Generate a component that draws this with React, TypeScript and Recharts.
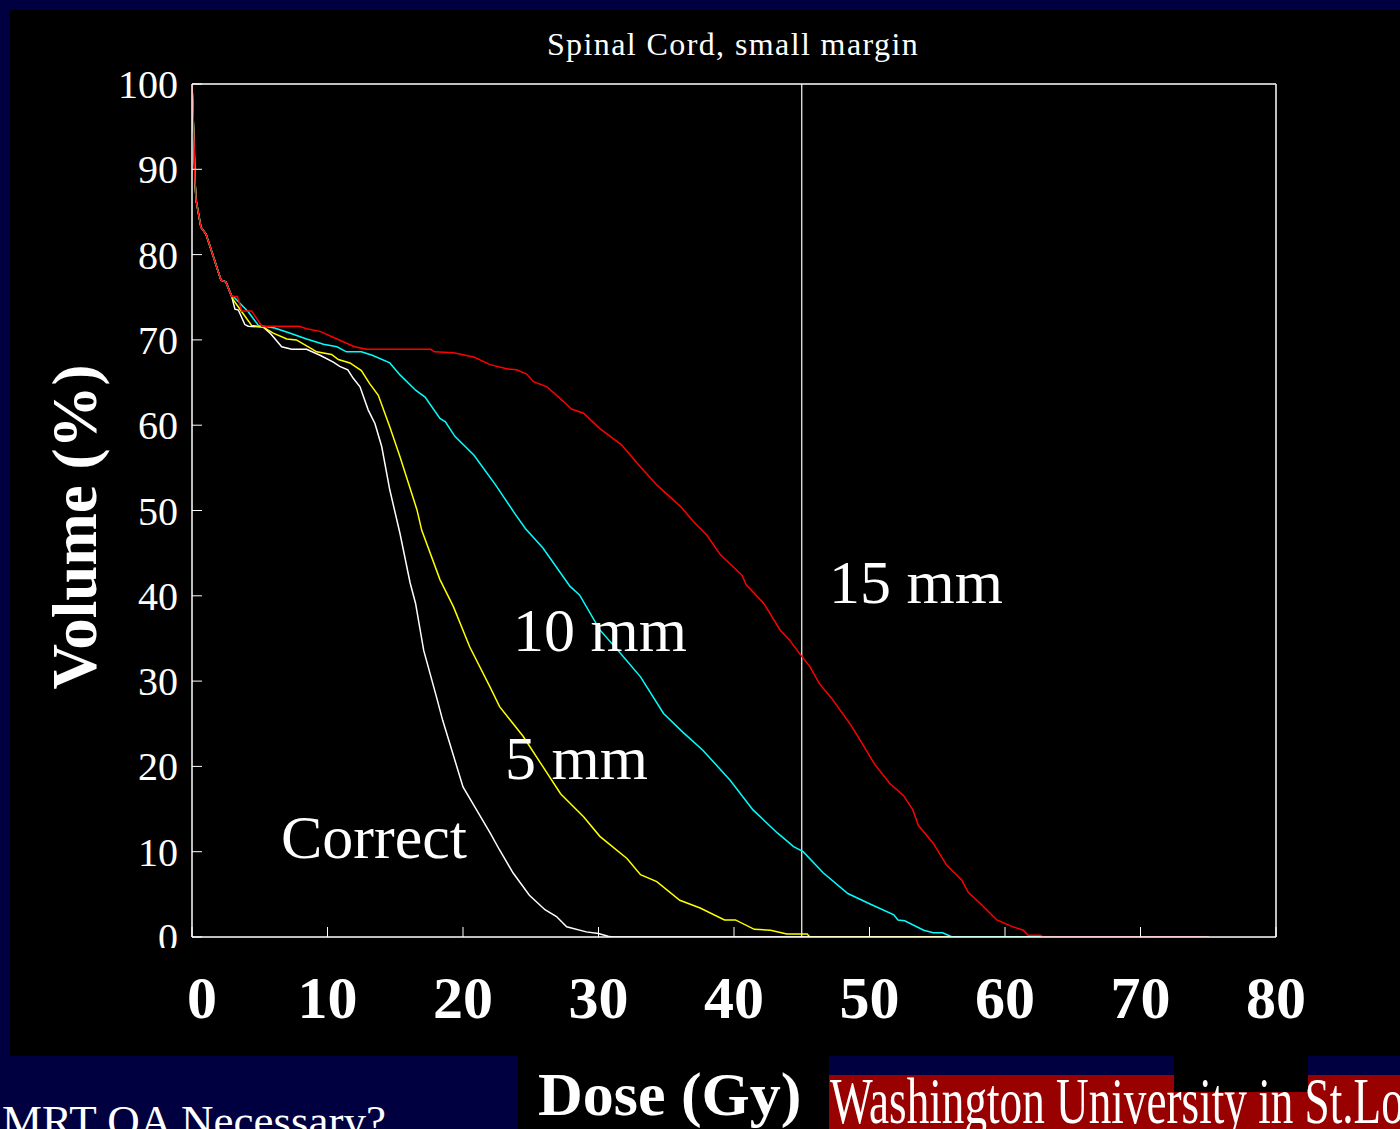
import React from 'react';
import { LineChart, Line, XAxis, YAxis, ReferenceLine } from 'recharts';

type Pt = [number, number];

// dose (Gy), volume (%)
const sharedStart: Pt[] = [
  [0, 100], [0.1, 95.4], [0.15, 93.1], [0.22, 88.7], [0.3, 86.4], [0.66, 83.2],
  [1.03, 82.4], [1.57, 79.8], [2.14, 77.0], [2.5, 76.8], [2.93, 75.1],
];

const correctTail: Pt[] = [
  [3.17, 73.6], [3.42, 73.5], [3.9, 71.8], [4.15, 71.6], [5.26, 71.5], [5.76, 70.8],
  [6.62, 69.2], [7.36, 68.9], [8.46, 68.9], [9.45, 68.2], [10.43, 67.4], [10.9, 66.9],
  [11.5, 66.5], [11.9, 65.5], [12.4, 64.5], [13.0, 61.8], [13.5, 60.2], [14.0, 57.5],
  [14.6, 52.4], [15.35, 47.3], [16.1, 41.5], [16.5, 39.1], [17.1, 33.6], [18.1, 27.8],
  [18.5, 25.4], [20.0, 17.6], [21.0, 14.9], [22.0, 12.2], [22.7, 10.2], [23.7, 7.5],
  [24.9, 4.9], [26.05, 3.2], [26.9, 2.4], [27.65, 1.2], [29.1, 0.6], [30.0, 0.4],
  [30.7, 0.1], [31, 0], [75, 0],
];

const fiveMmTail: Pt[] = [
  [3.05, 74.7], [3.67, 73.3], [4.4, 71.7], [5.26, 71.5], [6.0, 70.8], [7.0, 70.1],
  [7.7, 70.0], [8.46, 69.3], [9.2, 68.6], [10.3, 68.3], [10.8, 67.7], [11.66, 67.3],
  [12.5, 66.4], [13.1, 64.9], [13.75, 63.5], [14.6, 59.8], [15.35, 56.3], [16.6, 50.1],
  [16.95, 47.7], [18.3, 41.9], [19.3, 38.7], [20.5, 34.0], [22.0, 29.3], [22.7, 27.0],
  [24.45, 23.5], [25.8, 20.2], [27.2, 16.8], [28.9, 14.1], [30.1, 11.8], [32.1, 9.2],
  [33.1, 7.3], [34.3, 6.5], [36.0, 4.3], [37.5, 3.4], [39.3, 2.0], [40.1, 2.0],
  [41.5, 0.9], [42.7, 0.8], [43.9, 0.35], [45.4, 0.35], [45.6, 0], [75, 0],
];

const tenMmTail: Pt[] = [
  [3.05, 75.1], [4.15, 73.3], [4.9, 71.7], [6.1, 71.4], [7.2, 70.8], [8.46, 70.1],
  [9.7, 69.5], [10.7, 69.2], [11.4, 68.6], [12.5, 68.6], [13.3, 68.2], [14.6, 67.3],
  [15.35, 65.9], [16.5, 64.1], [17.2, 63.3], [18.3, 60.8], [18.7, 60.4], [19.4, 58.7],
  [20.8, 56.5], [22.4, 53.0], [23.8, 49.7], [24.6, 47.9], [25.9, 45.6], [27.9, 41.1],
  [28.6, 40.1], [30.1, 36.0], [31.6, 33.3], [33.1, 30.5], [34.8, 26.2], [36.3, 23.9],
  [37.7, 21.9], [39.7, 18.4], [41.4, 14.9], [43.2, 12.2], [44.4, 10.6], [45.1, 10.0],
  [46.6, 7.5], [48.4, 5.1], [50.0, 3.9], [51.8, 2.6], [52.1, 2.0], [52.6, 1.9],
  [54.0, 0.8], [54.7, 0.5], [55.4, 0.5], [56.1, 0], [75, 0],
];

const fifteenMmTail: Pt[] = [
  [3.35, 75.1], [3.67, 73.4], [4.4, 73.4], [5.15, 71.6], [7.9, 71.6], [8.46, 71.3],
  [9.45, 71.0], [10.7, 70.1], [12.0, 69.2], [12.9, 68.9], [17.6, 68.9], [17.9, 68.6],
  [19.3, 68.5], [20.8, 68.0], [22.0, 67.1], [23.3, 66.6], [23.95, 66.5], [24.7, 66.0],
  [25.2, 65.1], [26.2, 64.5], [27.4, 62.8], [28.0, 61.9], [28.9, 61.4], [30.1, 59.6],
  [31.7, 57.7], [33.1, 55.1], [34.3, 53.0], [36.1, 50.4], [37.0, 48.7], [38.0, 47.1],
  [39.0, 44.8], [40.6, 42.4], [40.9, 41.3], [42.2, 39.1], [43.4, 36.0], [44.1, 34.8],
  [44.9, 33.1], [45.6, 31.7], [46.3, 29.7], [47.2, 28.0], [48.6, 24.9], [49.3, 23.1],
  [50.4, 20.2], [51.5, 18.0], [52.5, 16.6], [53.2, 14.9], [53.6, 13.1], [54.7, 11.0],
  [55.7, 8.4], [56.8, 6.7], [57.3, 5.2], [58.2, 3.9], [59.4, 2.0], [60.4, 1.3],
  [61.35, 0.8], [61.7, 0.2], [62.6, 0.2], [62.8, 0], [75, 0],
];

const xTicks = [0, 10, 20, 30, 40, 50, 60, 70, 80];
const yTicks = [0, 10, 20, 30, 40, 50, 60, 70, 80, 90, 100];
const toleranceDose = 45;

const FONT = "'Liberation Serif', 'Times New Roman', Times, serif";
const NAVY = '#000040';

const toRows = (tail: Pt[]) => [...sharedStart, ...tail].map(([dose, vol]) => ({ dose, vol }));

const series = [
  { name: 'Correct', color: '#ffffff', data: toRows(correctTail) },
  { name: '5 mm', color: '#ffff00', data: toRows(fiveMmTail) },
  { name: '10 mm', color: '#00ffff', data: toRows(tenMmTail) },
  { name: '15 mm', color: '#ff0000', data: toRows(fifteenMmTail) },
];

const BottomTick = ({ x, y, payload }: any) => {
  // the slide's "0" sits a little right of the axis origin
  const first = payload.value === 0;
  return (
    <g>
      <line x1={x} y1={y} x2={x} y2={y - 10} stroke="#fff" />
      <text
        x={first ? x - 5 : x}
        y={y + 81}
        textAnchor={first ? 'start' : 'middle'}
        fill="#fff"
        fontFamily={FONT}
        fontWeight="bold"
        fontSize={60}
      >
        {payload.value}
      </text>
    </g>
  );
};

const TopTick = ({ x, y }: any) => <line x1={x} y1={y} x2={x} y2={y + 10} stroke="#fff" />;

const LeftTick = ({ x, y, payload }: any) => (
  <g>
    <line x1={x} y1={y} x2={x + 10} y2={y} stroke="#fff" />
    <text x={x - 14} y={y + 14} textAnchor="end" fill="#fff" fontFamily={FONT} fontSize={40}>
      {payload.value}
    </text>
  </g>
);

const RightTick = ({ x, y }: any) => <line x1={x} y1={y} x2={x - 10} y2={y} stroke="#fff" />;

const abs = (l: number, t: number, w: number, h: number, bg: string): React.CSSProperties => ({
  position: 'absolute', left: l, top: t, width: w, height: h, background: bg,
});

export default function App() {
  return (
    <div style={{ position: 'absolute', left: 0, top: 0, width: 1400, height: 1129, background: NAVY, overflow: 'hidden' }}>
      <div style={abs(10, 10, 1390, 1046, '#000')} />
      <div style={abs(518, 1056, 311, 73, '#000')} />
      <div style={abs(829, 1075, 571, 54, '#990000')} />
      <div style={abs(1174, 1056, 134, 36, '#000')} />

      <div style={{ position: 'absolute', left: 0, top: 0 }}>
        <LineChart width={1400} height={1129} margin={{ top: 74, right: 114, bottom: 92, left: 92 }}>
          <XAxis
            xAxisId="x"
            dataKey="dose"
            type="number"
            domain={[0, 80]}
            ticks={xTicks}
            interval={0}
            allowDataOverflow
            height={100}
            tickSize={0}
            tickMargin={0}
            axisLine={{ stroke: '#fff', strokeWidth: 1.5 }}
            tick={BottomTick}
          />
          <XAxis
            xAxisId="top"
            orientation="top"
            type="number"
            domain={[0, 80]}
            ticks={xTicks}
            interval={0}
            height={10}
            tickSize={0}
            tickMargin={0}
            axisLine={{ stroke: '#fff', strokeWidth: 1.5 }}
            tick={TopTick}
          />
          <YAxis
            yAxisId="y"
            type="number"
            domain={[0, 100]}
            ticks={yTicks}
            interval={0}
            allowDataOverflow
            width={100}
            tickSize={0}
            tickMargin={0}
            axisLine={{ stroke: '#fff', strokeWidth: 1.5 }}
            tick={LeftTick}
          />
          <YAxis
            yAxisId="right"
            orientation="right"
            type="number"
            domain={[0, 100]}
            ticks={yTicks}
            interval={0}
            width={10}
            tickSize={0}
            tickMargin={0}
            axisLine={{ stroke: '#fff', strokeWidth: 1.5 }}
            tick={RightTick}
          />
          <ReferenceLine xAxisId="x" yAxisId="y" x={toleranceDose} stroke="#fff" strokeWidth={1.2} />
          {series.map((s) => (
            <Line
              key={s.name}
              xAxisId="x"
              yAxisId="y"
              data={s.data}
              dataKey="vol"
              type="linear"
              stroke={s.color}
              strokeWidth={1.5}
              dot={false}
              isAnimationActive={false}
            />
          ))}
        </LineChart>
      </div>

      <svg width={1400} height={1129} style={{ position: 'absolute', left: 0, top: 0, pointerEvents: 'none' }}>
        {/* the slide's label box clips the lower part of the small "0" */}
        <rect x={140} y={948} width={48} height={14} fill="#000" />
        <g fontFamily={FONT} fill="#fff">
          <text x={733} y={55} textAnchor="middle" fontSize={32} letterSpacing={1.4}>
            Spinal Cord, small margin
          </text>
          <text transform="translate(96,527) rotate(-90)" textAnchor="middle" fontSize={63} fontWeight="bold">
            Volume (%)
          </text>
          <text x={829} y={603} fontSize={62}>15 mm</text>
          <text x={513} y={651} fontSize={62}>10 mm</text>
          <text x={505} y={779} fontSize={62}>5 mm</text>
          <text x={281} y={858} fontSize={62}>Correct</text>
          <text x={538} y={1115} fontSize={62} fontWeight="bold">Dose (Gy)</text>
          <text transform="translate(830,1123) scale(0.685,1)" fontSize={66}>
            Washington University in St.Lo
          </text>
          <text x={2} y={1136} fontSize={45}>MRT QA Necessary?</text>
        </g>
      </svg>
    </div>
  );
}
